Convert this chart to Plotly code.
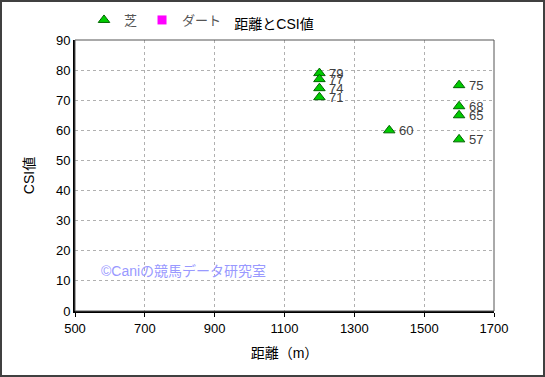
import plotly.graph_objects as go

turf_dist = [1200, 1200, 1200, 1200, 1400, 1600, 1600, 1600, 1600]
turf_csi = [79, 77, 74, 71, 60, 75, 68, 65, 57]
dirt_dist = []
dirt_csi = []
x_ticks = [500, 700, 900, 1100, 1300, 1500, 1700]
y_ticks = [0, 10, 20, 30, 40, 50, 60, 70, 80, 90]

W, H = 545, 377
L, R, T, B = 75, 51, 40, 66
pw, ph = W - L - R, H - T - B

font = "Liberation Sans, Noto Sans CJK JP, sans-serif"

fig = go.Figure()
fig.add_trace(go.Scatter(
    x=turf_dist, y=turf_csi, mode="markers", name="芝",
    marker=dict(symbol="triangle-up", size=10, color="#00cc00",
                line=dict(color="#006600", width=1)),
))
fig.add_trace(go.Scatter(
    x=dirt_dist if dirt_dist else [None], y=dirt_csi if dirt_csi else [None],
    mode="markers", name="ダート",
    marker=dict(symbol="square", size=9, color="#ff00ff"),
))

annotations = [
    dict(x=xv, y=yv, text=str(yv), xref="x", yref="y", xanchor="left",
         yanchor="middle", xshift=8, showarrow=False,
         font=dict(size=13, color="#404040"))
    for xv, yv in zip(turf_dist, turf_csi)
]
annotations.append(
    dict(text="©Caniの競馬データ研究室", xref="paper", yref="paper",
         x=(99 - L) / pw, y=(311 - 271) / ph, xanchor="left", yanchor="middle",
         showarrow=False, font=dict(size=14, color="#9999ff"))
)

fig.update_layout(
    width=W, height=H,
    margin=dict(l=L, r=R, t=T, b=B, autoexpand=False),
    paper_bgcolor="white", plot_bgcolor="white",
    font=dict(family=font, size=13, color="black"),
    title=dict(text="距離とCSI値", x=274 / W, xref="container", xanchor="center",
               y=1 - 24 / H, yref="container", yanchor="middle",
               font=dict(size=14, color="black")),
    showlegend=True,
    legend=dict(orientation="h", x=84 / W, xref="container", xanchor="left",
                y=1 - 20 / H, yref="container", yanchor="middle",
                font=dict(size=13, color="#555555"),
                bgcolor="rgba(0,0,0,0)", itemwidth=30, tracegroupgap=0),
    xaxis=dict(range=[500, 1700], tickvals=x_ticks, ticks="outside", ticklen=4,
               tickcolor="black", showline=True, linecolor="black", linewidth=2,
               mirror=False, showgrid=True, gridcolor="#b0b0b0", griddash="dot",
               gridwidth=1, zeroline=False, automargin=False,
               title=dict(text="距離（m）", standoff=14, font=dict(size=14)),
               tickfont=dict(size=13)),
    yaxis=dict(range=[0, 90], tickvals=y_ticks, ticks="", showline=True,
               linecolor="black", linewidth=2, mirror=False,
               showgrid=True, gridcolor="#b0b0b0", griddash="dot", gridwidth=1,
               zeroline=False, automargin=False,
               title=dict(text="CSI値", standoff=18, font=dict(size=14)),
               tickfont=dict(size=13)),
    shapes=[
        dict(type="rect", xref="paper", yref="paper", x0=0, x1=1, y0=0, y1=1,
             line=dict(color="#555555", width=1)),
        dict(type="rect", xref="paper", yref="paper",
             x0=-L / pw + 1 / pw, x1=1 + (R - 1) / pw,
             y0=-B / ph + 1 / ph, y1=1 + (T - 1) / ph,
             line=dict(color="#404040", width=2)),
    ],
    annotations=annotations,
)

fig.write_html("out.html", config={"displayModeBar": False},
               post_script="document.body.style.margin='0';document.body.style.overflow='hidden';")
